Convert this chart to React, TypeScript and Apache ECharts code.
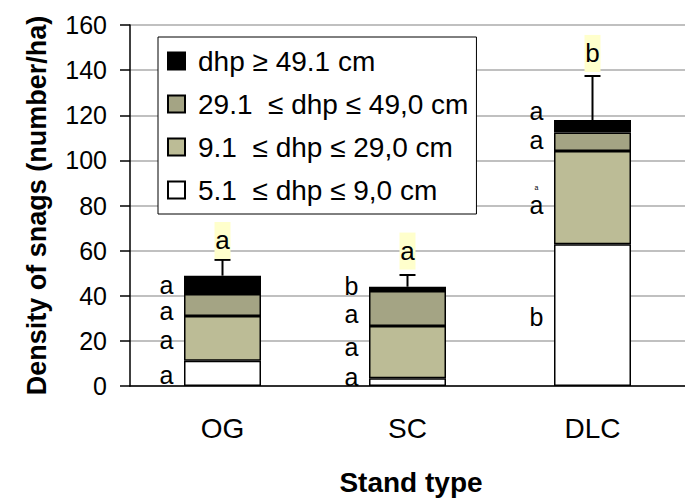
import React, { useEffect, useRef } from "react";
import * as echarts from "echarts";

const categories = ["OG", "SC", "DLC"];
const seriesNames = [
  "5.1  ≤ dhp ≤ 9,0 cm",
  "9.1  ≤ dhp ≤ 29,0 cm",
  "29.1  ≤ dhp ≤ 49,0 cm",
  "dhp ≥ 49.1 cm",
];
const small = [11.2, 3.4, 62.8];
const medium = [19.8, 23.2, 41.4];
const large = [9.8, 15.5, 8.1];
const veryLarge = [8.1, 1.9, 5.6];
const errorTop = [55.9, 49.2, 137.4];

const sideLetterCat = [0, 0, 0, 0, 1, 1, 1, 1, 2, 2, 2, 2, 2];
const sideLetterY = [44.6, 33.2, 20.2, 4.9, 44.4, 32, 17.4, 4.1, 121.7, 109, 88, 80.2, 30.7];
const sideLetterText = ["a", "a", "a", "a", "b", "a", "a", "a", "a", "a", "a", "a", "b"];
const sideLetterSize = [25, 25, 25, 25, 25, 25, 25, 25, 25, 25, 7, 25, 25];

const topLetterText = ["a", "a", "b"];
const topLetterY = [64.5, 59.8, 147.4];

const FONT = "'Liberation Sans', Arial, sans-serif";

export default function App() {
  const ref = useRef<HTMLDivElement>(null);
  useEffect(() => {
    if (!ref.current) return;
    const chart = echarts.init(ref.current, undefined, { renderer: "svg" });
    const totals = categories.map((_, i) => small[i] + medium[i] + large[i] + veryLarge[i]);
    const colors = ["#FFFFFF", "#BCBC96", "#A4A484", "#000000"];
    const stacks = [small, medium, large, veryLarge];
    const barSeries = stacks.map((arr, k) => ({
      type: "bar",
      name: seriesNames[k],
      stack: "s",
      barWidth: 77,
      data: arr,
      itemStyle: { color: colors[k], borderColor: "#000", borderWidth: 1.5 },
      z: 2,
    }));
    const option: any = {
      animation: false,
      textStyle: { fontFamily: FONT },
      grid: { left: 130, top: 25, width: 565, height: 361 },
      legend: {
        orient: "vertical",
        left: 158,
        top: 37,
        data: [seriesNames[3], seriesNames[2], seriesNames[1], seriesNames[0]],
        backgroundColor: "#fff",
        borderColor: "#000",
        borderWidth: 1,
        padding: [10, 8, 10, 9],
        itemGap: 15,
        itemWidth: 17,
        itemHeight: 17,
        icon: "rect",
        textStyle: { fontFamily: FONT, fontSize: 28, color: "#000", padding: [0, 0, 0, 8] },
      },
      xAxis: {
        type: "category",
        data: categories,
        axisLine: { lineStyle: { color: "#000", width: 1.5 } },
        axisTick: { length: 9, lineStyle: { color: "#000", width: 1.5 } },
        axisLabel: { fontFamily: FONT, fontSize: 28, color: "#000", margin: 28 },
      },
      yAxis: {
        type: "value",
        min: 0,
        max: 160,
        interval: 20,
        axisLine: { show: true, lineStyle: { color: "#000", width: 1.5 } },
        axisTick: { show: true, length: 10, lineStyle: { color: "#000", width: 1.5 } },
        axisLabel: { fontFamily: FONT, fontSize: 25, color: "#000", margin: 23 },
        splitLine: { lineStyle: { color: "#ABABAB", width: 1.5 } },
      },
      graphic: [
        {
          type: "text",
          x: 37,
          y: 205.5,
          rotation: Math.PI / 2,
          style: {
            text: "Density of snags (number/ha)",
            fontFamily: FONT,
            fontSize: 27,
            fontWeight: "bold",
            fill: "#000",
            align: "center",
            verticalAlign: "middle",
          },
        },
        {
          type: "text",
          x: 411,
          y: 482,
          style: {
            text: "Stand type",
            fontFamily: FONT,
            fontSize: 28,
            fontWeight: "bold",
            fill: "#000",
            align: "center",
            verticalAlign: "middle",
          },
        },
      ],
      series: [
        ...barSeries,
        {
          type: "custom",
          name: "error",
          z: 3,
          data: categories.map((_, i) => [i, totals[i], errorTop[i]]),
          renderItem: (params: any, api: any) => {
            const x = api.value(0);
            const base = api.coord([x, api.value(1)]);
            const top = api.coord([x, api.value(2)]);
            return {
              type: "group",
              children: [
                { type: "line", shape: { x1: base[0], y1: base[1], x2: top[0], y2: top[1] }, style: { stroke: "#000", lineWidth: 2 } },
                { type: "line", shape: { x1: top[0] - 8, y1: top[1], x2: top[0] + 8, y2: top[1] }, style: { stroke: "#000", lineWidth: 2 } },
              ],
            };
          },
        },
        {
          type: "custom",
          name: "sideLetters",
          z: 4,
          data: sideLetterCat.map((c, i) => [c, sideLetterY[i]]),
          renderItem: (params: any, api: any) => {
            const p = api.coord([api.value(0), api.value(1)]);
            const i = params.dataIndex;
            return {
              type: "text",
              x: p[0] - 56,
              y: p[1],
              style: {
                text: sideLetterText[i],
                fontFamily: FONT,
                fontSize: sideLetterSize[i],
                lineHeight: sideLetterSize[i] > 10 ? 20 : 7,
                fill: "#000",
                align: "center",
                verticalAlign: "middle",
              },
            };
          },
        },
        {
          type: "custom",
          name: "topLetters",
          z: 4,
          data: categories.map((_, i) => [i, topLetterY[i]]),
          renderItem: (params: any, api: any) => {
            const p = api.coord([api.value(0), api.value(1)]);
            const i = params.dataIndex;
            return {
              type: "group",
              children: [
                { type: "rect", shape: { x: p[0] - 8, y: p[1] - 18.5, width: 16, height: 37 }, style: { fill: "#FFFFCC" } },
                {
                  type: "text",
                  x: p[0],
                  y: p[1],
                  style: {
                    text: topLetterText[i],
                    fontFamily: FONT,
                    fontSize: 26,
                    fill: "#000",
                    align: "center",
                    verticalAlign: "middle",
                  },
                },
              ],
            };
          },
        },
      ],
    };
    chart.setOption(option);
    return () => chart.dispose();
  }, []);
  return <div ref={ref} style={{ width: 685, height: 499, position: "absolute", left: 0, top: 0 }} />;
}
